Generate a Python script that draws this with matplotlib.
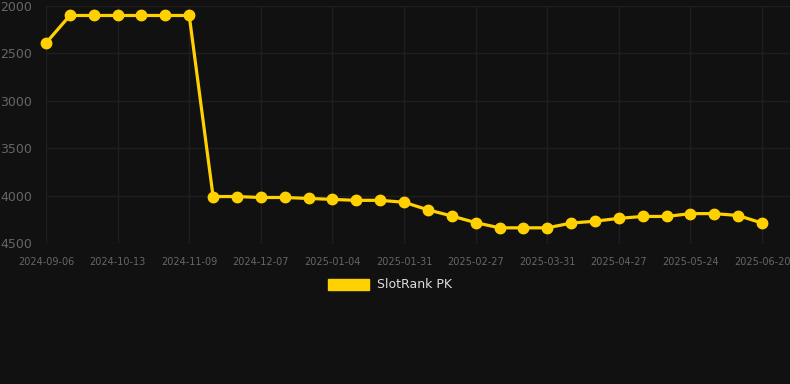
import matplotlib.pyplot as plt
from matplotlib.patches import Patch

dates = [
    "2024-09-06", "2024-09-18", "2024-10-01", "2024-10-13", "2024-10-22",
    "2024-10-31", "2024-11-09", "2024-11-18", "2024-11-28", "2024-12-07",
    "2024-12-16", "2024-12-25", "2025-01-04", "2025-01-13", "2025-01-22",
    "2025-01-31", "2025-02-09", "2025-02-18", "2025-02-27", "2025-03-10",
    "2025-03-20", "2025-03-31", "2025-04-09", "2025-04-18", "2025-04-27",
    "2025-05-06", "2025-05-15", "2025-05-24", "2025-06-02", "2025-06-11",
    "2025-06-20",
]
rank = [
    2390, 2100, 2100, 2100, 2100, 2100, 2100, 4010, 4010, 4020,
    4020, 4030, 4040, 4050, 4050, 4070, 4150, 4215, 4285, 4340,
    4340, 4340, 4290, 4270, 4240, 4220, 4220, 4190, 4190, 4210,
    4290,
]
series_name = "SlotRank PK"

BG = "#111111"
GOLD = "#FFD100"
GRID = "#1f1f1f"
TICK = "#666666"

fig = plt.figure(figsize=(7.9, 3.84), dpi=100, facecolor=BG)
ax = fig.add_axes([46 / 790, 141 / 384, 744 / 790, 237 / 384], facecolor=BG)

x = list(range(len(rank)))
ax.plot(x, rank, color=GOLD, lw=2.3, marker="o", ms=7.5, zorder=3, clip_on=False)

ax.set_ylim(4500, 2000)
ax.set_yticks([2000, 2500, 3000, 3500, 4000, 4500])
ax.set_xlim(0, 31.17)
ticks = x[::3]
ax.set_xticks(ticks)
ax.set_xticklabels([dates[i] for i in ticks])

ax.grid(True, color=GRID, lw=1)
for s in ax.spines.values():
    s.set_visible(False)
ax.tick_params(axis="y", colors=TICK, labelsize=9, length=0, pad=10)
ax.tick_params(axis="x", colors=TICK, labelsize=7, length=0, pad=10)

fig.legend(handles=[Patch(facecolor=GOLD, edgecolor=GOLD, label=series_name)],
           loc="center", bbox_to_anchor=(390 / 790, 1 - 285 / 384),
           frameon=False, fontsize=9, labelcolor="#dddddd",
           handlelength=3.3, handleheight=1.0, handletextpad=0.6)

fig.savefig("out.png", dpi=100, facecolor=BG)
